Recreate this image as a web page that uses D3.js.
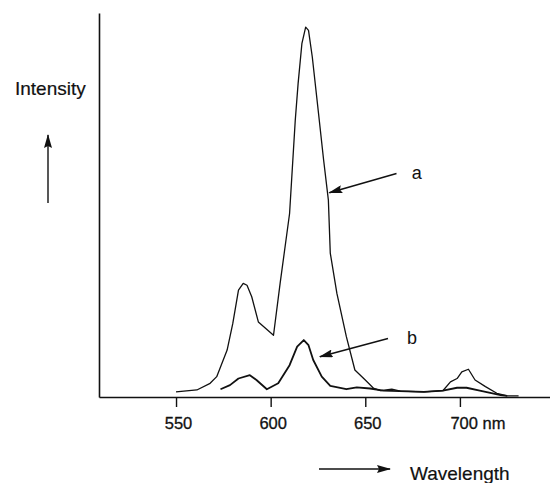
<!DOCTYPE html>
<html>
<head>
<meta charset="utf-8">
<script src="https://cdn.jsdelivr.net/npm/d3@7"></script>
<style>
  body { margin: 0; background: #fff; }
  svg { display: block; font-family: "Liberation Sans", Arial, sans-serif; }
</style>
</head>
<body>
<svg id="chart" width="550" height="483"></svg>
<script>
// spectrum a (strong)
var waveA = [550, 561, 568, 571.5, 577, 580, 583, 585.5, 587.5, 590, 593.5, 601.5, 605, 610, 613, 614.5,
  616.5, 618.5, 620, 622, 625.5, 628, 630.5, 631.5, 635, 640, 644.5, 650, 654.5, 658, 664, 668.5,
  681, 691, 695, 698.5, 701, 704.5, 708, 713.5, 719.5, 725, 731];
var intA = [1.4, 1.9, 3.7, 5.5, 12.7, 19.9, 28.9, 30.7, 30.2, 27.1, 20.3, 16.7, 30.7, 49.6, 74.8, 84.7,
  95.5, 100, 99.1, 91.9, 75.7, 64, 53.2, 38.9, 28, 16.3, 7.3, 4.6, 2.3, 1.7, 2.1, 1.6,
  1.4, 1.7, 4.1, 5, 6.8, 7.5, 4.6, 2.8, 1, 0.3, 0.3];

// spectrum b (weak)
var waveB = [573.5, 578.5, 583, 589, 592.5, 598, 604, 610, 614, 617.5, 620, 622.5, 627, 631.5, 640,
  645.5, 652.5, 659.5, 681, 691, 698.5, 703.5, 710.5, 721.5, 725];
var intB = [2.1, 3.2, 5, 5.9, 4.6, 2.1, 3.7, 8.6, 13.6, 15.4, 14, 10, 5.5, 3, 2.1,
  2.6, 2.3, 1.7, 1.4, 1.7, 2.5, 2.5, 1.7, 0.5, 0.3];

var xTicks = [550, 600, 650, 700];

// labelled arrows: tail -> tip, in data units
var callouts = [
  { label: "a", x0: 666.5, y0: 60.4, x1: 631, y1: 55.2, lx: 674.5, ly: 60.5 },
  { label: "b", x0: 662, y0: 15.8, x1: 626, y1: 10.9, lx: 672, ly: 15.9 }
];

var svg = d3.select("#chart");

var xScale = d3.scaleLinear().domain([509.3, 747.6]).range([99, 550]);
var yScale = d3.scaleLinear().domain([0, 103.8]).range([397, 13]);

var defs = svg.append("defs");
defs.append("marker")
  .attr("id", "head")
  .attr("viewBox", "0 0 14 8")
  .attr("preserveAspectRatio", "none")
  .attr("refX", 13).attr("refY", 4)
  .attr("markerWidth", 14).attr("markerHeight", 8)
  .attr("markerUnits", "userSpaceOnUse")
  .attr("orient", "auto")
  .append("path")
  .attr("d", "M0,0 L14,4 L0,8 L2,4 Z")
  .attr("fill", "#111");

// x axis
var xAxis = svg.append("g")
  .attr("transform", "translate(0," + yScale(0) + ")")
  .call(d3.axisBottom(xScale).tickValues(xTicks).tickSize(10).tickSizeOuter(0).tickPadding(10)
    .tickFormat(d => d === 700 ? "700 nm" : d));
xAxis.select(".domain").attr("stroke", "#111").attr("stroke-width", 1.6);
xAxis.selectAll(".tick line").attr("stroke", "#111").attr("stroke-width", 1.4);
xAxis.selectAll(".tick text")
  .attr("fill", "#111")
  .style("font-size", "16.5px")
  .attr("stroke", "#111").attr("stroke-width", 0.3)
  .attr("dx", 2)
  .filter(d => d === 700)
  .attr("text-anchor", "start")
  .attr("dx", -10);

// y axis, no ticks
var yAxis = svg.append("g")
  .attr("transform", "translate(" + xScale.range()[0] + ",0)")
  .call(d3.axisLeft(yScale).tickValues([]).tickSizeOuter(0));
yAxis.select(".domain").attr("stroke", "#111").attr("stroke-width", 1.6);

var line = d3.line()
  .x(d => xScale(d[0]))
  .y(d => yScale(d[1]));

svg.append("path")
  .datum(d3.zip(waveA, intA))
  .attr("d", line)
  .attr("fill", "none")
  .attr("stroke", "#111")
  .attr("stroke-width", 1.3)
  .attr("stroke-linejoin", "round");

svg.append("path")
  .datum(d3.zip(waveB, intB))
  .attr("d", line)
  .attr("fill", "none")
  .attr("stroke", "#111")
  .attr("stroke-width", 1.8)
  .attr("stroke-linejoin", "round");

// callouts
svg.selectAll(".callout")
  .data(callouts)
  .enter()
  .append("line")
  .attr("class", "callout")
  .attr("x1", d => xScale(d.x0))
  .attr("y1", d => yScale(d.y0))
  .attr("x2", d => xScale(d.x1))
  .attr("y2", d => yScale(d.y1))
  .attr("stroke", "#111")
  .attr("stroke-width", 1.5)
  .attr("marker-end", "url(#head)");

svg.selectAll(".calloutLabel")
  .data(callouts)
  .enter()
  .append("text")
  .attr("class", "calloutLabel")
  .attr("x", d => xScale(d.lx))
  .attr("y", d => yScale(d.ly))
  .attr("dy", "0.35em")
  .attr("text-anchor", "start")
  .style("font-size", "18px")
  .attr("fill", "#111")
  .text(d => d.label);

// axis titles with arrows
svg.append("text")
  .attr("x", 15).attr("y", 95)
  .style("font-size", "19px")
  .attr("fill", "#111")
  .attr("stroke", "#111").attr("stroke-width", 0.2)
  .text("Intensity");

svg.append("line")
  .attr("x1", 48).attr("y1", 203)
  .attr("x2", 48).attr("y2", 135)
  .attr("stroke", "#111").attr("stroke-width", 1.4)
  .attr("marker-end", "url(#head)");

svg.append("line")
  .attr("x1", 319).attr("y1", 469)
  .attr("x2", 390).attr("y2", 469)
  .attr("stroke", "#111").attr("stroke-width", 1.4)
  .attr("marker-end", "url(#head)");

svg.append("text")
  .attr("x", 410).attr("y", 480)
  .style("font-size", "19px")
  .attr("fill", "#111")
  .attr("stroke", "#111").attr("stroke-width", 0.2)
  .text("Wavelength");
</script>
</body>
</html>
